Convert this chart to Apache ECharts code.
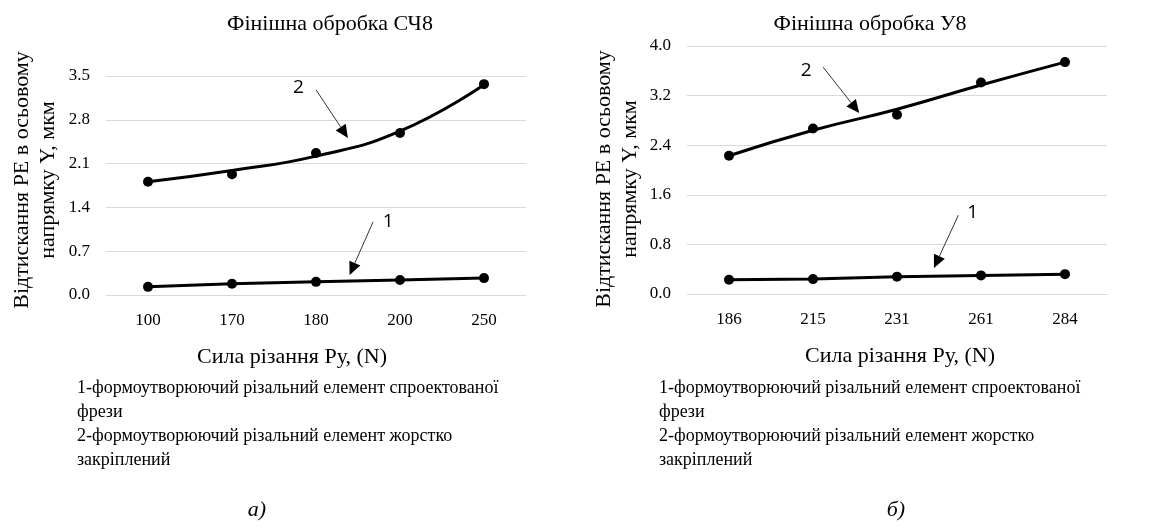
<!DOCTYPE html>
<html>
<head>
<meta charset="utf-8">
<script src="https://cdn.jsdelivr.net/npm/echarts@6/dist/echarts.min.js"></script>
<style>
html,body{margin:0;padding:0;background:#fff;}
#c{width:1152px;height:530px;}
</style>
</head>
<body>
<div id="c"></div>
<script>
// ---- data: chart a) ----
const catsA = ['100', '170', '180', '200', '250'];
const ptsA1 = [0.13, 0.18, 0.21, 0.24, 0.27];
const ptsA2 = [1.81, 1.93, 2.27, 2.59, 3.37];
const trendA2 = [1.81, 1.99, 2.22, 2.62, 3.36];
const ticksA = [0, 0.7, 1.4, 2.1, 2.8, 3.5];
// ---- data: chart б) ----
const catsB = ['186', '215', '231', '261', '284'];
const ptsB1 = [0.23, 0.24, 0.28, 0.30, 0.32];
const ptsB2 = [2.23, 2.67, 2.89, 3.41, 3.74];
const trendB2 = [2.23, 2.64, 2.98, 3.37, 3.74];
const ticksB = [0, 0.8, 1.6, 2.4, 3.2, 4.0];
// ---- texts ----
const titleA = 'Фінішна обробка СЧ8';
const titleB = 'Фінішна обробка У8';
const yName = 'Відтискання РЕ в осьовому\nнапрямку Y, мкм';
const xName = 'Сила різання Ру, (N)';
const notes = ['1-формоутворюючий різальний елемент спроектованої', 'фрези', '2-формоутворюючий різальний елемент жорстко', 'закріплений'];
const captions = ['а)', 'б)'];
// annotation anchors in data units [categoryIndex, value]
const annA = {l2: [1.79, 3.31], a2: [[2.0, 3.28], [2.38, 2.51]], l1: [2.86, 1.17], a1: [[2.68, 1.17], [2.40, 0.32]]};
const annB = {l2: [0.92, 3.61], a2: [[1.12, 3.66], [1.55, 2.92]], l1: [2.90, 1.32], a1: [[2.73, 1.27], [2.44, 0.42]]};

const SERIF = 'Liberation Serif, Times New Roman, serif';
const grid = '#d9d9d9';

function xAxisOf(cats, gi, pad) {
  return {
    type: 'category', gridIndex: gi, data: cats, boundaryGap: true,
    axisLine: {show: true, lineStyle: {color: grid, width: 1}},
    axisTick: {show: false},
    axisLabel: {color: '#000', fontFamily: SERIF, fontSize: 17, margin: 17},
    name: xName, nameLocation: 'middle', nameGap: 51, nameMoveOverlap: false,
    nameTextStyle: {color: '#000', fontFamily: SERIF, fontSize: 22, padding: pad}
  };
}
function yAxisOf(ticks, gi) {
  return {
    type: 'value', gridIndex: gi, min: ticks[0], max: ticks[ticks.length - 1],
    interval: ticks[1] - ticks[0],
    axisLine: {show: false}, axisTick: {show: false},
    splitLine: {lineStyle: {color: grid, width: 1}},
    axisLabel: {color: '#000', fontFamily: SERIF, fontSize: 17, margin: 16,
      formatter: v => v.toFixed(1)}
  };
}
function pointSeries(data, gi) {
  return {type: 'scatter', xAxisIndex: gi, yAxisIndex: gi, data: data, symbol: 'circle',
    symbolSize: 10, itemStyle: {color: '#000', opacity: 1}, z: 3, silent: true};
}
function lineSeries(data, gi, smooth, sym) {
  return {type: 'line', xAxisIndex: gi, yAxisIndex: gi, data: data, smooth: smooth,
    showSymbol: sym, symbol: 'circle', symbolSize: 10, itemStyle: {color: '#000', opacity: 1},
    lineStyle: {color: '#000', width: 3}, z: 2, silent: true, animation: false};
}

const chart = echarts.init(document.getElementById('c'), null, {renderer: 'canvas'});
chart.setOption({
  animation: false,
  backgroundColor: '#fff',
  title: [
    {text: titleA, left: 330, top: 13, padding: 0, textAlign: 'center', textStyle: {fontFamily: SERIF, fontSize: 22, fontWeight: 'normal', color: '#000'}},
    {text: titleB, left: 870, top: 13, padding: 0, textAlign: 'center', textStyle: {fontFamily: SERIF, fontSize: 22, fontWeight: 'normal', color: '#000'}}
  ],
  grid: [
    {left: 106, top: 76, width: 420, height: 219, outerBoundsMode: 'none', containLabel: false},
    {left: 687, top: 46, width: 420, height: 248, outerBoundsMode: 'none', containLabel: false}
  ],
  xAxis: [xAxisOf(catsA, 0, [0, 48, 0, 0]), xAxisOf(catsB, 1, [0, 0, 0, 6])],
  yAxis: [yAxisOf(ticksA, 0), yAxisOf(ticksB, 1)],
  series: [
    lineSeries(ptsA1, 0, false, true),
    lineSeries(trendA2, 0, true, false),
    pointSeries(ptsA2, 0),
    lineSeries(ptsB1, 1, false, true),
    lineSeries(trendB2, 1, true, false),
    pointSeries(ptsB2, 1)
  ]
});

function toPx(gi, p) {
  const p0 = chart.convertToPixel({gridIndex: gi}, [0, p[1]]);
  const p1 = chart.convertToPixel({gridIndex: gi}, [1, p[1]]);
  return [p0[0] + (p1[0] - p0[0]) * p[0], p0[1]];
}
function arrow(a, b) {
  const dx = b[0] - a[0], dy = b[1] - a[1];
  const L = Math.sqrt(dx * dx + dy * dy), ux = dx / L, uy = dy / L;
  const hl = 13, hw = 6;
  const bx = b[0] - ux * hl, by = b[1] - uy * hl;
  return [
    {type: 'line', shape: {x1: a[0], y1: a[1], x2: bx, y2: by}, style: {stroke: '#333', lineWidth: 1}, z: 10},
    {type: 'polygon', shape: {points: [[b[0], b[1]], [bx - uy * hw, by + ux * hw], [bx + uy * hw, by - ux * hw]]}, style: {fill: '#000'}, z: 10}
  ];
}
function annot(gi, ann) {
  const out = [];
  const l2 = toPx(gi, ann.l2), l1 = toPx(gi, ann.l1);
  out.push({type: 'text', x: l2[0], y: l2[1], style: {text: '2', font: '19px "Open Sans", sans-serif', fill: '#000', align: 'center', verticalAlign: 'middle'}, z: 10});
  out.push({type: 'text', x: l1[0], y: l1[1], style: {text: '1', font: '19px "Open Sans", sans-serif', fill: '#000', align: 'center', verticalAlign: 'middle'}, z: 10});
  out.push(...arrow(toPx(gi, ann.a2[0]), toPx(gi, ann.a2[1])));
  out.push(...arrow(toPx(gi, ann.a1[0]), toPx(gi, ann.a1[1])));
  return out;
}
const g = [];
g.push(...annot(0, annA));
g.push(...annot(1, annB));
// rotated y-axis names
[[35, 180], [617, 179]].forEach(c => {
  g.push({type: 'text', x: c[0], y: c[1], rotation: Math.PI / 2,
    style: {text: yName, font: '22px "Liberation Serif", serif', fill: '#000', align: 'center', verticalAlign: 'middle', lineHeight: 26}});
});
[77, 659].forEach((x, k) => {
  notes.forEach((t, i) => {
    g.push({type: 'text', x: x, y: 388 + i * 24, style: {text: t, font: '18px "Liberation Serif", serif', fill: '#000', verticalAlign: 'middle'}});
  });
  g.push({type: 'text', x: k === 0 ? 257 : 896, y: 510, style: {text: captions[k], font: 'italic 22px "Liberation Serif", serif', fill: '#000', align: 'center', verticalAlign: 'middle'}});
});
chart.setOption({graphic: g});
</script>
</body>
</html>
